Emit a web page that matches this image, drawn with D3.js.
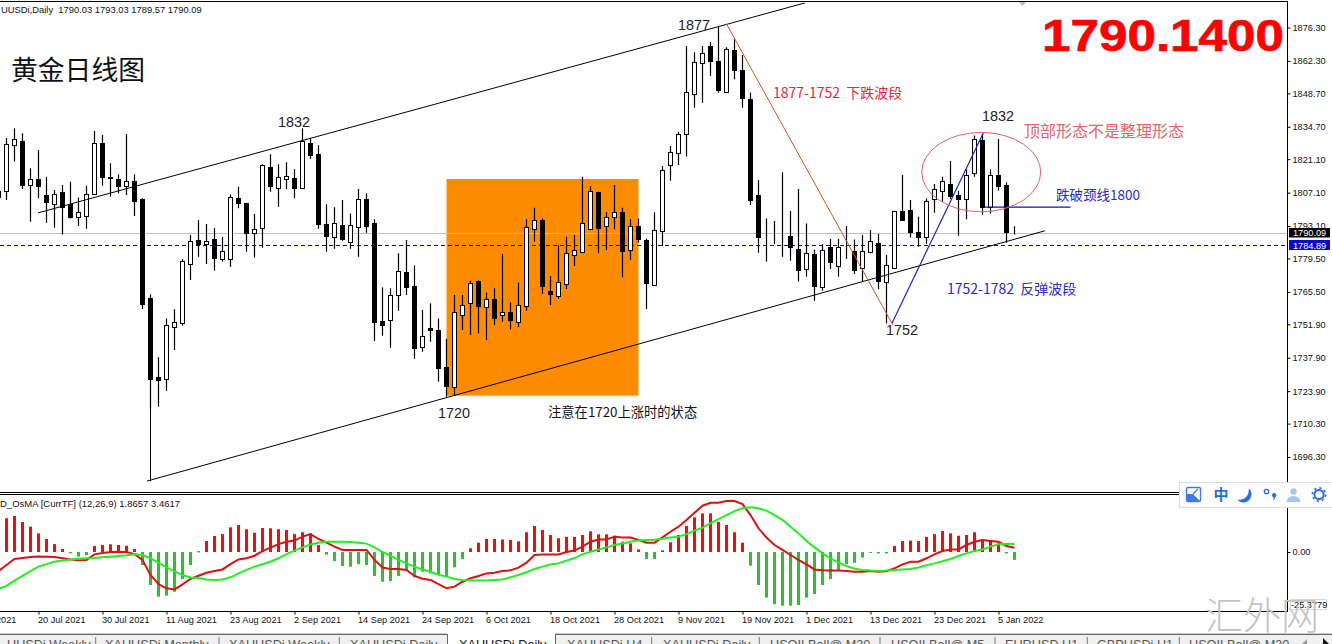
<!DOCTYPE html>
<html>
<head>
<meta charset="utf-8">
<script src="https://cdnjs.cloudflare.com/ajax/libs/d3/7.8.5/d3.min.js"></script>
<style>
  html, body { margin: 0; padding: 0; background: #fff; overflow: hidden; }
  svg { display: block; }
  text { font-family: "Liberation Sans", sans-serif; white-space: pre; }
  .cjk { font-family: "Noto Sans CJK SC", sans-serif; }
</style>
</head>
<body>
<svg id="chart" width="1332" height="644"></svg>
<script>
// candles, first one is the half hidden bar left of the window
const candleOpen = [1807.9,
  1807.7,1826.9,1828.7,1810.2,1812.7,1806.1,1802.5,1807.4,1802.2,1797.0,
  1797.4,1806.6,1827.8,1813.6,1812.7,1810.0,1811.8,1804.4,1762.8,1729.7,
  1729.1,1750.7,1752.6,1777.1,1787.1,1785.7,1787.5,1779.2,1779.4,1804.7,
  1802.6,1790.1,1792.2,1817.8,1809.2,1812.9,1813.1,1809.2,1827.8,1823.2,
  1793.8,1788.7,1793.4,1786.5,1792.8,1804.4,1794.2,1753.2,1753.8,1764.3,
  1773.7,1768.0,1742.5,1750.2,1749.5,1734.0,1725.8,1755.9,1761.0,1770.1,
  1759.0,1762.5,1755.9,1756.9,1753.0,1759.5,1792.0,1795.6,1765.9,1763.9,
  1768.7,1781.1,1782.1,1792.0,1807.2,1793.0,1796.8,1798.9,1782.9,1793.0,
  1787.2,1768.4,1790.9,1818.6,1823.8,1831.8,1848.6,1861.3,1868.5,1862.3,
  1849.4,1866.9,1858.5,1846.3,1806.1,1788.4,1788.9,1788.0,1788.9,1783.5,
  1775.0,1781.4,1767.7,1784.3,1776.5,1783.1,1782.6,1775.4,1782.1,1785.9,
  1769.8,1775.4,1799.4,1799.8,1790.5,1788.6,1804.3,1807.7,1810.7,1806.1,
  1804.3,1815.2,1829.2,1801.0,1814.4,1810.3,1790.03];
const candleHigh = [1810.3,
  1830.0,1834.1,1832.0,1817.3,1825.0,1813.8,1808.2,1810.3,1811.7,1805.1,
  1810.0,1832.9,1831.2,1819.4,1814.8,1831.7,1814.8,1804.7,1764.5,1738.1,
  1754.4,1758.2,1779.3,1789.3,1795.6,1794.0,1792.3,1788.5,1806.4,1809.6,
  1802.9,1798.1,1819.0,1823.2,1819.0,1819.8,1816.9,1834.1,1830.1,1826.9,
  1802.2,1801.0,1804.0,1798.4,1808.6,1806.8,1795.9,1767.4,1767.0,1781.7,
  1787.2,1776.6,1757.9,1760.7,1754.4,1745.8,1764.2,1764.2,1770.2,1770.3,
  1765.2,1767.0,1781.4,1761.1,1769.4,1795.9,1800.8,1796.3,1772.2,1785.0,
  1788.6,1789.3,1813.8,1809.9,1807.5,1799.0,1810.3,1800.8,1796.0,1796.3,
  1787.9,1798.9,1818.3,1826.6,1832.6,1868.5,1865.9,1868.5,1870.2,1876.9,
  1868.0,1871.4,1864.8,1849.1,1812.4,1796.3,1795.2,1815.6,1799.4,1808.6,
  1794.2,1783.3,1785.6,1787.7,1787.7,1793.1,1787.5,1789.3,1791.4,1789.8,
  1781.0,1799.5,1814.5,1804.0,1797.0,1804.7,1810.7,1813.8,1820.3,1807.8,
  1816.9,1831.0,1831.7,1816.9,1829.6,1811.4,1793.03];
const candleLow = [1803.2,
  1804.0,1820.1,1808.6,1794.9,1804.7,1794.5,1792.4,1789.6,1796.3,1793.1,
  1792.0,1806.1,1810.0,1805.4,1806.8,1806.1,1797.3,1758.3,1716.0,1717.4,
  1724.0,1741.2,1751.3,1770.5,1780.2,1777.2,1774.4,1778.2,1776.0,1800.5,
  1782.3,1779.8,1784.0,1807.5,1801.2,1808.5,1804.7,1808.9,1821.2,1792.0,
  1782.3,1783.6,1786.9,1783.6,1780.2,1790.3,1744.9,1747.1,1742.1,1757.6,
  1764.2,1737.5,1740.4,1744.6,1727.9,1721.6,1722.2,1749.5,1747.4,1748.1,
  1745.3,1751.6,1753.0,1749.8,1750.7,1757.6,1786.5,1764.6,1760.0,1762.5,
  1766.7,1776.3,1781.7,1791.4,1781.7,1783.1,1791.7,1771.6,1778.9,1786.1,
  1758.3,1768.1,1784.7,1812.1,1818.7,1822.2,1842.7,1844.8,1856.0,1849.0,
  1849.0,1854.6,1842.7,1801.9,1781.9,1778.2,1785.6,1780.2,1778.6,1769.8,
  1771.9,1761.8,1766.0,1775.1,1771.9,1779.3,1773.0,1769.8,1781.7,1766.6,
  1752.3,1775.3,1795.6,1788.3,1784.4,1785.6,1798.7,1803.3,1804.4,1789.0,
  1795.9,1813.8,1797.8,1798.4,1807.9,1786.1,1789.57];
const candleClose = [1805.4,
  1827.5,1829.4,1810.4,1812.7,1810.0,1803.3,1806.4,1801.0,1796.9,1798.9,
  1806.4,1827.8,1813.8,1813.4,1810.0,1811.8,1803.7,1760.5,1729.1,1728.6,
  1751.5,1752.8,1778.3,1786.9,1785.7,1786.9,1779.8,1782.5,1805.1,1802.8,
  1790.3,1791.7,1818.6,1810.0,1813.5,1814.1,1809.2,1828.7,1823.0,1794.1,
  1789.0,1794.2,1787.7,1793.4,1804.3,1793.2,1753.0,1751.7,1764.1,1774.1,
  1767.7,1742.1,1746.9,1749.5,1733.7,1726.0,1756.9,1759.9,1769.1,1759.7,
  1762.4,1754.7,1756.9,1753.8,1759.9,1792.8,1795.8,1768.1,1764.7,1769.5,
  1781.7,1782.9,1794.2,1807.7,1792.4,1796.8,1798.9,1782.8,1793.0,1787.8,
  1769.4,1791.3,1816.4,1824.0,1831.5,1849.1,1861.7,1865.5,1862.4,1850.1,
  1867.2,1858.5,1846.8,1804.0,1788.6,1788.3,1788.8,1787.9,1784.4,1774.8,
  1781.7,1768.1,1782.9,1778.2,1784.2,1783.0,1774.7,1782.5,1786.7,1770.2,
  1776.6,1799.4,1795.8,1790.6,1788.6,1803.5,1808.5,1811.8,1805.7,1804.3,
  1814.4,1829.4,1801.2,1814.4,1810.0,1790.7,1790.09];

// OsMA panel
const osmaHist = [12.0,
  14.5,15.5,12.9,10.9,8.0,5.6,3.4,1.3,-0.6,-2.0,
  -1.4,2.6,3.0,3.3,3.0,2.7,1.3,-5.6,-14.2,-19.2,
  -18.8,-17.1,-11.6,-5.6,0.3,4.7,6.9,7.7,10.6,11.6,
  9.8,8.3,10.3,10.2,9.8,9.5,7.7,8.5,8.0,3.0,
  -1.1,-3.9,-6.0,-6.3,-5.2,-5.6,-10.3,-12.8,-12.5,-10.3,
  -7.7,-10.9,-8.5,-9.2,-9.5,-10.3,-6.6,-3.0,1.6,4.0,
  5.6,5.6,5.4,5.2,4.6,8.5,11.2,9.5,7.3,5.9,
  6.5,6.5,7.3,8.9,7.6,7.6,7.0,4.4,3.7,1.1,
  -3.0,-3.0,0.7,4.2,7.3,11.2,14.9,16.6,16.6,13.0,
  11.6,8.5,4.0,-5.9,-14.2,-19.6,-22.4,-23.1,-23.1,-22.8,
  -19.6,-18.1,-14.2,-11.6,-7.7,-5.2,-4.6,-2.4,-0.3,-0.6,
  -0.6,2.6,4.7,4.9,4.7,6.5,7.7,9.0,8.0,7.0,
  7.3,8.5,5.4,5.2,3.7,-0.6,-3.4];
const macdLine = [-8.2,
  -5.6,-3.0,-2.6,-2.2,-1.9,-2.0,-2.2,-2.7,-3.2,-3.6,
  -3.4,-1.0,-0.4,0,0.1,0,-0.9,-3.4,-9.9,-13.8,
  -15.6,-16.1,-13.9,-11.6,-10.2,-8.9,-8.2,-7.5,-5.2,-3.2,
  -2.7,-1.6,0.4,1.9,3.4,4.4,4.9,6.6,7.7,5.6,
  4.0,2.3,0.9,0.9,0.9,0.9,-3.4,-6.7,-7.3,-7.3,
  -7.7,-10.3,-11.5,-12.0,-13.8,-15.6,-14.9,-12.8,-11.3,-10.3,
  -9.2,-8.9,-8.2,-7.9,-6.7,-4.6,-1.3,-1.1,-1.1,-1.1,
  0,0.6,2.3,4.4,5.4,5.4,6.6,6.2,6.2,5.2,
  4.0,4.0,6.3,8.7,10.9,13.8,16.9,19.9,21.2,21.2,
  21.9,21.9,20.6,15.9,10.2,6.2,3.0,0.9,-1.3,-3.4,
  -5.3,-7.5,-7.9,-8.0,-8.0,-8.2,-8.5,-8.5,-8.2,-8.5,
  -8.3,-7.0,-5.3,-4.2,-4.2,-2.7,-1.0,0.4,1.1,1.1,
  3.0,4.4,5.2,4.7,4.4,2.6,1.87];
const signalLine = [-15.9,
  -14.6,-12.3,-10.3,-8.2,-6.3,-5.2,-4.2,-3.6,-3.2,-2.9,
  -2.7,-2.6,-2.3,-2.0,-1.7,-1.4,-1.0,-1.3,-2.7,-4.6,
  -6.6,-8.3,-9.9,-11.0,-11.2,-11.8,-12.0,-11.8,-10.9,-9.2,
  -7.7,-6.3,-5.3,-4.2,-2.7,-0.9,0.6,2.0,3.2,4.0,
  4.4,4.4,4.4,4.3,4.0,3.6,2.0,0,-1.7,-3.4,
  -4.9,-6.3,-7.5,-8.5,-9.8,-10.6,-11.6,-12.0,-12.2,-12.3,
  -12.3,-12.0,-11.8,-10.9,-9.9,-8.7,-7.3,-6.3,-5.4,-4.9,
  -3.7,-2.6,-1.0,0.1,1.1,2.0,3.0,3.7,4.4,5.0,
  5.2,5.3,5.7,6.2,6.6,7.7,9.2,10.5,12.3,14.1,
  15.9,17.6,18.8,19.2,18.8,17.8,15.9,13.8,10.9,8.0,
  4.7,2.0,-0.6,-2.7,-4.6,-6.0,-7.2,-7.7,-8.0,-8.2,
  -8.0,-7.7,-7.5,-7.3,-6.7,-5.7,-4.9,-4.0,-3.0,-1.7,
  -0.6,0.4,1.1,2.3,3.3,3.4,3.46];

// axis ticks
const priceTicks = [1876.3,1862.3,1848.7,1834.7,1821.1,1807.1,1793.1,1779.5,1765.5,1751.9,1737.9,1723.9,1710.3,1696.3];
const dateTickBars = [-4,4,12,20,28,36,44,52,60,68,76,84,92,100,108,116,124];
const dateTickLabels = ["8 Jul 2021","20 Jul 2021","30 Jul 2021","11 Aug 2021","23 Aug 2021","2 Sep 2021","14 Sep 2021","24 Sep 2021","6 Oct 2021","18 Oct 2021","28 Oct 2021","9 Nov 2021","19 Nov 2021","1 Dec 2021","13 Dec 2021","23 Dec 2021","5 Jan 2022"];

// drawn objects as [bar, price]
const channelUpper = [[3.94,1798.6],[99.8,1886.6]];
const channelLower = [[17.56,1686.2],[129.8,1791.1]];
const channelDrop = [[18,1716.0],[18,1686.2]];
const waveDown = [[90,1877.8],[110.8,1751.6]];
const waveUp = [[110.7,1752.5],[122.1,1832.1]];
const neckLine = [[122.3,1801.0],[133,1801.0]];
const boxBars = [55,79];
const boxPrices = [1812.8,1722.0];
const ellipseAt = [121.84,1815.7];

const lastBid = 1790.09;
const lastAsk = 1784.89;

const tabNames = ["UUSDi Weekly","XAUUSDi Monthly","XAUUSDi Weekly","XAUUSDi Daily","XAUUSDi Daily","XAUUSDi H4","XAUUSDi Daily","USOILBall@ M30","USOILBall@ M5","EURUSD H1","GBPUSDi H1","USOILBall@ M30"];
const tabStarts = [7,105,229,350,459,567,663,770,891,1005,1097,1189];
const tabSeps = [95.7,219,339.3,651.7,759.3,880,995,1087.3,1179.3];

const bars = candleOpen.map((o, k) => ({
  i: k - 1, o: o, h: candleHigh[k], l: candleLow[k], c: candleClose[k],
  hist: osmaHist[k], macd: macdLine[k], sig: signalLine[k]
}));

const svg = d3.select("#chart");
const axisX = 1287.5;
const smallFont = 9.2;

const x = d3.scaleLinear().domain([-1, 126]).range([-1.5, 1014.5]);
const y = d3.scaleLinear().domain([1696.3, 1876.3]).range([457, 27.5]);
const yOsma = d3.scaleLinear().domain([-25.3779, 0]).range([611, 552]);

const defs = svg.append("defs");
defs.append("clipPath").attr("id", "mainClip").append("rect").attr("x", 0).attr("y", 2).attr("width", axisX).attr("height", 490);
defs.append("clipPath").attr("id", "osmaClip").append("rect").attr("x", 0).attr("y", 495).attr("width", axisX).attr("height", 116);

const main = svg.append("g").attr("clip-path", "url(#mainClip)");

// orange box sits behind everything
main.append("rect")
  .attr("x", x(boxBars[0])).attr("width", x(boxBars[1]) - x(boxBars[0]))
  .attr("y", y(boxPrices[0])).attr("height", y(boxPrices[1]) - y(boxPrices[0]))
  .attr("fill", "#ff8c00");

main.append("line").attr("x1", 0).attr("x2", axisX)
  .attr("y1", Math.floor(y(lastBid)) + 0.5).attr("y2", Math.floor(y(lastBid)) + 0.5)
  .attr("stroke", "#c0c0c0");
main.append("line").attr("x1", 0).attr("x2", axisX)
  .attr("y1", Math.floor(y(lastAsk)) + 0.5).attr("y2", Math.floor(y(lastAsk)) + 0.5)
  .attr("stroke", "#101080").attr("stroke-dasharray", "4,3");

// candles
main.selectAll("line.wick").data(bars).join("line")
  .attr("class", "wick")
  .attr("x1", d => x(d.i)).attr("x2", d => x(d.i))
  .attr("y1", d => y(d.h)).attr("y2", d => y(d.l))
  .attr("stroke", "#000").attr("stroke-width", 1.2);

main.selectAll("rect.body").data(bars).join("rect")
  .attr("class", "body")
  .attr("x", d => x(d.i) - 2)
  .attr("width", 4)
  .attr("y", d => Math.round(y(Math.max(d.o, d.c))) + 0.5)
  .attr("height", d => Math.max(0, Math.round(y(Math.min(d.o, d.c))) - Math.round(y(Math.max(d.o, d.c)))))
  .attr("fill", d => d.c >= d.o ? "#fff" : "#000")
  .attr("stroke", "#000").attr("stroke-width", 1);

// drawn lines
const priceLine = d3.line().x(d => x(d[0])).y(d => y(d[1]));
function drawTrend(pts, color, w) {
  main.append("path").attr("d", priceLine(pts)).attr("fill", "none").attr("stroke", color).attr("stroke-width", w);
}
drawTrend(channelUpper, "#000", 1);
drawTrend(channelLower, "#000", 1);
drawTrend(channelDrop, "#000", 1);
drawTrend(waveDown, "#d8501e", 1);
drawTrend(waveUp, "#2222c4", 1.2);
drawTrend(neckLine, "#1010b0", 1.2);

main.append("ellipse")
  .attr("cx", x(ellipseAt[0])).attr("cy", y(ellipseAt[1]))
  .attr("rx", 59.5).attr("ry", 39.7)
  .attr("fill", "none").attr("stroke", "#e0606a").attr("stroke-width", 1);

// marker at the top
svg.append("path").attr("d", "M1018,1L1027,1L1022.5,6Z").attr("fill", "#bbb");

// text annotations
function note(txt, tx, ty, size, color, cls) {
  return svg.append("text").attr("x", tx).attr("y", ty).attr("font-size", size).attr("fill", color)
    .attr("class", cls || null).text(txt);
}
note("1877", 678, 30, 14.4, "#222");
note("1832", 278, 127, 14.4, "#222");
note("1832", 982, 121, 14.4, "#222");
note("1720", 438, 418, 14.4, "#222");
note("1752", 886, 335, 14.4, "#222");
note("黄金日线图", 11, 80, 26.8, "#111", "cjk");
note("1877-1752  下跌波段", 773, 98, 14, "#dc2a48", "cjk");
note("顶部形态不是整理形态", 1024, 137, 16, "#e2626a", "cjk");
note("跌破颈线1800", 1056, 200, 13.5, "#2a2ac8", "cjk");
note("1752-1782  反弹波段", 947, 294, 14, "#2a2ac8", "cjk");
note("注意在1720上涨时的状态", 548, 417, 13.3, "#111", "cjk");

svg.append("text").attr("x", 1042).attr("y", 51)
  .attr("font-size", 45).attr("font-weight", "bold").attr("fill", "#ff0000")
  .attr("stroke", "#ff0000").attr("stroke-width", 0.7)
  .attr("textLength", 242).attr("lengthAdjust", "spacingAndGlyphs")
  .text("1790.1400");

note("UUSDi,Daily  1790.03 1793.03 1789.57 1790.09", 1, 13, 9.4, "#111");

// OsMA panel
const osma = svg.append("g").attr("clip-path", "url(#osmaClip)");
osma.selectAll("rect.hist").data(bars).join("rect")
  .attr("class", "hist")
  .attr("x", d => x(d.i) - 1.5)
  .attr("width", 3)
  .attr("y", d => d.hist >= 0 ? yOsma(d.hist) : yOsma(0))
  .attr("height", d => Math.max(1, Math.abs(yOsma(d.hist) - yOsma(0))))
  .attr("fill", d => d.hist >= 0 ? "#e81010" : "#33bb33");

const osmaLine = key => d3.line().x(d => x(d.i)).y(d => yOsma(d[key]));
osma.append("path").attr("d", osmaLine("macd")(bars)).attr("fill", "none").attr("stroke", "#dd1111").attr("stroke-width", 2);
osma.append("path").attr("d", osmaLine("sig")(bars)).attr("fill", "none").attr("stroke", "#22ee22").attr("stroke-width", 2);

note("D_OsMA [CurrTF] (12,26,9) 1.8657 3.4617", 0, 507, 9.5, "#111");

// frame
const frame = svg.append("g").attr("stroke", "#000").attr("fill", "none");
frame.append("line").attr("x1", 0).attr("x2", axisX).attr("y1", 1.5).attr("y2", 1.5);
frame.append("line").attr("x1", 0).attr("x2", axisX).attr("y1", 492.5).attr("y2", 492.5);
frame.append("line").attr("x1", 0).attr("x2", axisX).attr("y1", 494.5).attr("y2", 494.5);
frame.append("line").attr("x1", 0).attr("x2", axisX).attr("y1", 611.5).attr("y2", 611.5);
frame.append("line").attr("x1", axisX).attr("x2", axisX).attr("y1", 1).attr("y2", 612);

// axes
function styleAxis(g) {
  g.select(".domain").remove();
  g.selectAll("text").attr("font-size", smallFont).attr("fill", "#111").style("font-family", '"Liberation Sans", sans-serif');
  g.selectAll("line").attr("stroke", "#000");
}
svg.append("g").attr("transform", `translate(${axisX},0)`)
  .call(d3.axisRight(y).tickValues(priceTicks).tickFormat(d => d.toFixed(2)).tickSize(3).tickPadding(2))
  .call(styleAxis);
svg.append("g").attr("transform", `translate(${axisX},0)`)
  .call(d3.axisRight(yOsma).tickValues([0]).tickFormat(d => d.toFixed(2)).tickSize(3).tickPadding(2))
  .call(styleAxis);

const xAxisG = svg.append("g").attr("transform", "translate(0,611.5)")
  .call(d3.axisBottom(x).tickValues(dateTickBars).tickFormat((d, k) => dateTickLabels[k]).tickSize(3).tickPadding(2))
  .call(styleAxis);
xAxisG.selectAll("text").attr("text-anchor", "start").attr("dx", "-1");

// last price boxes
function priceBox(v, by, bh, fill) {
  svg.append("rect").attr("x", 1289).attr("y", by).attr("width", 41).attr("height", bh).attr("fill", fill);
  svg.append("text").attr("x", 1293).attr("y", by + bh - 1.5).attr("font-size", smallFont).attr("fill", "#fff").text(v.toFixed(2));
}
priceBox(lastBid, 228, 9.5, "#000");
priceBox(lastAsk, 240, 10, "#0a0ac8");

svg.append("rect").attr("x", 1290.5).attr("y", 599.5).attr("width", 36).attr("height", 10).attr("fill", "#fff").attr("stroke", "#d8d8d8");
note("-25.3779", 1291, 608, smallFont, "#111");

// tab bar
svg.append("rect").attr("x", 0).attr("y", 634).attr("width", 1332).attr("height", 10).attr("fill", "#f0f0f0");
svg.append("line").attr("x1", 0).attr("x2", 1332).attr("y1", 633.5).attr("y2", 633.5).attr("stroke", "#cfcfcf");
svg.append("line").attr("x1", 0).attr("x2", 447).attr("y1", 634.5).attr("y2", 634.5).attr("stroke", "#666");
svg.append("line").attr("x1", 555).attr("x2", 1332).attr("y1", 634.5).attr("y2", 634.5).attr("stroke", "#666");
svg.append("rect").attr("x", 447).attr("y", 633).attr("width", 108).attr("height", 11).attr("fill", "#fff");
svg.append("line").attr("x1", 447.5).attr("x2", 447.5).attr("y1", 634).attr("y2", 644).attr("stroke", "#666");
svg.append("line").attr("x1", 555.5).attr("x2", 555.5).attr("y1", 634).attr("y2", 644).attr("stroke", "#666");
tabNames.forEach((t, k) => {
  svg.append("text").attr("x", tabStarts[k]).attr("y", 649).attr("font-size", 12.7)
    .attr("fill", k === 4 ? "#111" : "#555").text(t);
});
tabSeps.forEach(s => {
  svg.append("line").attr("x1", s).attr("x2", s).attr("y1", 637).attr("y2", 644).attr("stroke", "#777");
});
svg.append("path").attr("d", "M1307,639L1302,644L1307,644Z").attr("fill", "#999");
svg.append("path").attr("d", "M1323,638L1329,644L1323,644Z").attr("fill", "#111");

// watermark
note("汇外网", 1205, 629, 38, "#c4c4c4", "cjk").attr("font-weight", 300);

// input method toolbar floating over the chart
const bar = svg.append("g");
bar.append("rect").attr("x", 1179.5).attr("y", 482.5).attr("width", 153).attr("height", 25)
  .attr("fill", "#fff").attr("stroke", "#d5dcec");
bar.append("rect").attr("x", 1186.5).attr("y", 487.5).attr("width", 14).attr("height", 14).attr("rx", 1.5)
  .attr("fill", "none").attr("stroke", "#3e7be6").attr("stroke-width", 1.4);
bar.append("path").attr("d", "M1187,501L1187,494L1193,494L1200,501Z").attr("fill", "#3e7be6");
bar.append("path").attr("d", "M1193,494L1198,489").attr("stroke", "#3e7be6").attr("stroke-width", 1.2);
bar.append("text").attr("class", "cjk").attr("x", 1221).attr("y", 500).attr("text-anchor", "middle")
  .attr("font-size", 15).attr("font-weight", "bold").attr("fill", "#2a6ae6").text("中");
bar.append("path").attr("d", "M1249,489A7.5,7.5 0 1 1 1238,500A10,10 0 0 0 1249,489Z").attr("fill", "#2a6ae6")
  .attr("stroke", "#2a6ae6").attr("stroke-width", 0.5);
bar.append("circle").attr("cx", 1266.5).attr("cy", 491.5).attr("r", 2.2).attr("fill", "none").attr("stroke", "#2a6ae6").attr("stroke-width", 1.3);
bar.append("path").attr("d", "M1272,495.5a2.2,2.2 0 1 1 3.4,1.5q-0.3,2.4 -2.4,3.4q1,-1.8 0.4,-3.2q-1.2,-0.3 -1.4,-1.7Z").attr("fill", "#2a6ae6");
bar.append("circle").attr("cx", 1293.5).attr("cy", 491.5).attr("r", 3.2).attr("fill", "#a8c4f0");
bar.append("path").attr("d", "M1286.5,502q0.5,-6 7,-6q6.5,0 7,6Z").attr("fill", "#a8c4f0");
bar.append("circle").attr("cx", 1319).attr("cy", 494.5).attr("r", 4.6).attr("fill", "none").attr("stroke", "#2a6ae6").attr("stroke-width", 2);
bar.append("circle").attr("cx", 1319).attr("cy", 494.5).attr("r", 6.6).attr("fill", "none").attr("stroke", "#2a6ae6").attr("stroke-width", 1.6).attr("stroke-dasharray", "2.2,3");
</script>
</body>
</html>
